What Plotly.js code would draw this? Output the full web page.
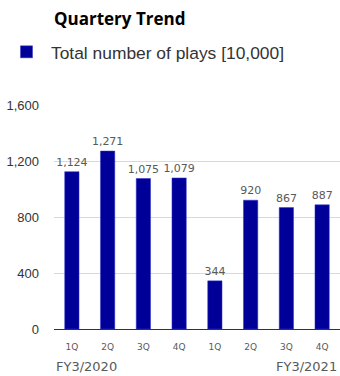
<!DOCTYPE html>
<html><head><meta charset="utf-8">
<script src="https://cdn.plot.ly/plotly-3.0.1.min.js"></script>
<style>html,body{margin:0;padding:0;background:#fff}#c{width:340px;height:376px}</style>
</head><body><div id="c"></div>
<script>
const quarters = ['1Q','2Q','3Q','4Q','1Q','2Q','3Q','4Q'];
const plays = [1124, 1271, 1075, 1079, 344, 920, 867, 887];
const yTicks = [0, 400, 800, 1200, 1600];
const fyLabels = ['FY3/2020', 'FY3/2021'];
const seriesName = 'Total number of plays [10,000]';
const chartTitle = 'Quartery Trend';

const idx = quarters.map((_, i) => i);
const trace = {
  type: 'bar', x: idx, y: plays, name: seriesName,
  marker: {color: '#000099', line: {color: '#3333cc', width: 0.5}},
  text: plays.map(v => v.toLocaleString('en-US')),
  textposition: 'outside', cliponaxis: false, constraintext: 'none',
  textfont: {family: 'DejaVu Sans', size: 11, color: '#595959'},
  showlegend: true
};
const H = 376, W = 340, plotTop = 105, plotBot = 329, plotL = 54, plotR = 340;
const layout = {
  width: W, height: H,
  margin: {l: plotL, r: W - plotR, t: plotTop, b: H - plotBot, autoexpand: false},
  paper_bgcolor: '#fff', plot_bgcolor: '#fff',
  title: {text: '<b>' + chartTitle + '</b>', font: {family: 'Open Sans', size: 17, color: '#000'},
          x: 54/W, xanchor: 'left', xref: 'container', y: 1 - 19/H, yanchor: 'middle', yref: 'container'},
  bargap: 0.6,
  showlegend: true,
  legend: {x: 2/W, xref: 'container', xanchor: 'left', y: 1 - 34/H, yref: 'container', yanchor: 'top',
           itemwidth: 39,
           font: {family: 'Liberation Sans', size: 17.4, color: '#333'}, bgcolor: 'rgba(0,0,0,0)'},
  xaxis: {tickvals: idx, ticktext: quarters, range: [-0.5, 7.5], showgrid: false,
          showline: true, linecolor: '#333', linewidth: 1, ticks: '',
          tickfont: {family: 'DejaVu Sans', size: 9, color: '#595959'}, ticklabelstandoff: 9, fixedrange: true},
  yaxis: {range: [0, 1600], tickvals: yTicks, ticktext: yTicks.map(v => v.toLocaleString('en-US')),
          showgrid: true, gridcolor: '#d9d9d9', zeroline: false, showline: false, ticks: '',
          tickfont: {family: 'Liberation Sans', size: 13, color: '#333'}, ticklabelstandoff: 14},
  annotations: [
    {text: fyLabels[0], xref: 'paper', yref: 'paper', x: 0, y: -(366 - plotBot)/(plotBot - plotTop),
     xanchor: 'left', yanchor: 'middle', showarrow: false,
     font: {family: 'DejaVu Sans', size: 13, color: '#595959'}},
    {text: fyLabels[1], xref: 'paper', yref: 'paper', x: (339 - plotL)/(plotR - plotL), y: -(366 - plotBot)/(plotBot - plotTop),
     xanchor: 'right', yanchor: 'middle', showarrow: false,
     font: {family: 'DejaVu Sans', size: 13, color: '#595959'}}
  ]
};
Plotly.newPlot('c', [trace], layout, {staticPlot: true});
</script></body></html>
